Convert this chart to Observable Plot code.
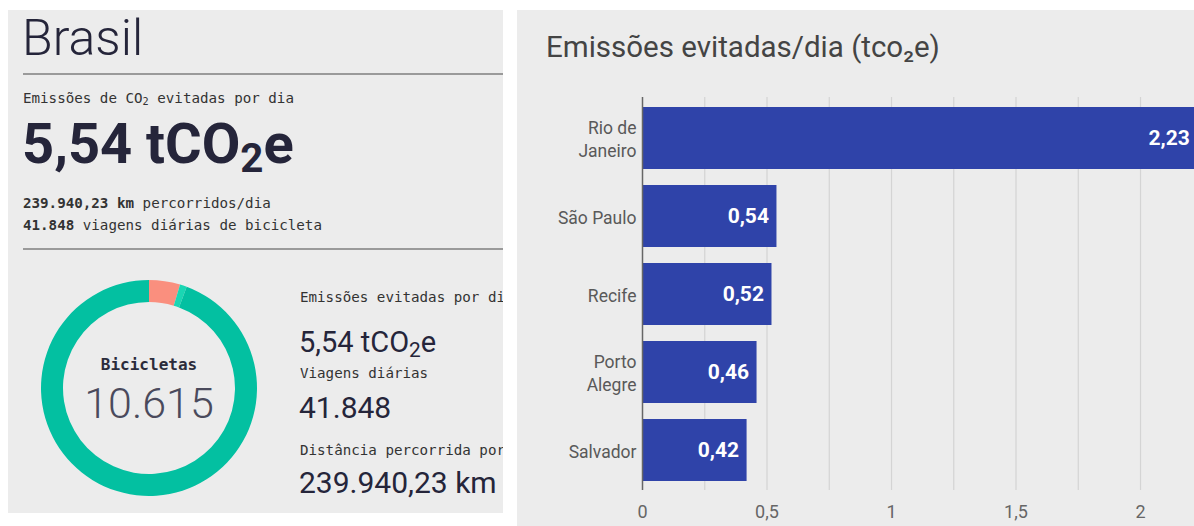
<!DOCTYPE html>
<html><head><meta charset="utf-8">
<script src="https://cdn.jsdelivr.net/npm/d3@7"></script>
<script src="https://cdn.jsdelivr.net/npm/@observablehq/plot@0.6"></script>
<style>
html,body{margin:0;padding:0;background:#fff;width:1194px;height:526px;overflow:hidden;}
svg{max-width:none !important;}
.panel{position:absolute;background:#ececec;overflow:hidden;}
#left{left:8px;top:10px;width:495px;height:503px;}
#right{left:517px;top:10px;width:677px;height:516px;}
.t{position:absolute;white-space:nowrap;line-height:1;color:#25253a;}
.sans{font-family:Roboto,"Noto Sans",sans-serif;}
.mono{font-family:"DejaVu Sans Mono","Liberation Mono",monospace;font-size:14.2px;color:#333;}
.hr{position:absolute;left:15px;right:0;height:1.5px;background:#9a9a9a;}
sub{font-size:0.72em;vertical-align:-0.22em;line-height:0;}
</style>
</head><body>
<div id="left" class="panel"></div>
<div id="right" class="panel"></div>
<script>
// ---- data ----
const country = "Brasil";
const emissionsTotal = "5,54";
const kmPerDay = "239.940,23";
const tripsPerDay = "41.848";
const bikes = "10.615";
const donutParts = ["Parte A", "Parte B", "Parte C"];
const donutValues = [493, 109, 10013];
const donutColors = ["#fa8f7e", "#1ad6b3", "#03c0a1"];
const cities = ["Rio de Janeiro", "São Paulo", "Recife", "Porto Alegre", "Salvador"];
const cityLabels = ["Rio de\nJaneiro", "São Paulo", "Recife", "Porto\nAlegre", "Salvador"];
const emissions = [2.23, 0.54, 0.52, 0.46, 0.42];
const xTicks = [0, 0.5, 1, 1.5, 2];
const xTickLabels = ["0", "0,5", "1", "1,5", "2"];
const gridTicks = [0.25, 0.5, 0.75, 1, 1.25, 1.5, 1.75, 2];
const chartTitle = "Emissões evitadas/dia (tco₂e)";

// ---- left panel ----
const left = document.getElementById("left");
left.innerHTML = `
<div class="t sans" style="left:14px;top:3px;font-size:50px;font-weight:300;">${country}</div>
<div class="hr" style="top:63px;"></div>
<div class="t mono" style="left:15px;top:81px;">Emissões de CO<sub>2</sub> evitadas por dia</div>
<div class="t sans" style="left:14px;top:106px;font-size:56px;font-weight:700;">${emissionsTotal} tCO<sub>2</sub>e</div>
<div class="t mono" style="left:15px;top:186px;"><b>${kmPerDay} km</b> percorridos/dia</div>
<div class="t mono" style="left:15px;top:208px;"><b>${tripsPerDay}</b> viagens diárias de bicicleta</div>
<div class="hr" style="top:238px;"></div>
<div id="donut" style="position:absolute;left:31px;top:268px;width:220px;height:220px;"></div>
<div class="t mono" style="left:41px;width:200px;text-align:center;top:347px;font-size:16px;font-weight:bold;color:#2b2b3b;">Bicicletas</div>
<div class="t sans" style="left:41px;width:200px;text-align:center;top:372px;font-size:43px;font-weight:300;color:#4a4a5c;">${bikes}</div>
<div class="t mono" style="left:292px;top:280px;">Emissões evitadas por dia</div>
<div class="t sans" style="left:291px;top:318px;font-size:29px;">${emissionsTotal} tCO<sub>2</sub>e</div>
<div class="t mono" style="left:292px;top:356px;">Viagens diárias</div>
<div class="t sans" style="left:291px;top:383px;font-size:30px;">${tripsPerDay}</div>
<div class="t mono" style="left:292px;top:433px;">Distância percorrida por dia</div>
<div class="t sans" style="left:291px;top:458px;font-size:30px;">${kmPerDay} km</div>
`;

const donut = Plot.plot({
  width: 220, height: 220, margin: 0,
  style: {background: "transparent", overflow: "visible"},
  marks: [
    (index, scales, values, dimensions) => {
      const g = d3.create("svg:g")
        .attr("transform", `translate(${dimensions.width / 2},${dimensions.height / 2})`);
      const arcs = d3.pie().sort(null)(donutValues);
      const arc = d3.arc().innerRadius(86).outerRadius(108);
      g.selectAll("path").data(arcs).join("path")
        .attr("d", arc)
        .attr("fill", (d, i) => donutColors[i])
        .append("title").text((d, i) => donutParts[i]);
      return g.node();
    }
  ]
});
document.getElementById("donut").appendChild(donut);

// ---- right panel ----
const right = document.getElementById("right");
right.innerHTML = `<div class="t sans" style="left:29px;top:23px;font-size:29.5px;color:#444;">${chartTitle}</div>`;

const rows = cities.map((c, i) => ({city: c, value: emissions[i]}));
const labelOf = new Map(cities.map((c, i) => [c, cityLabels[i]]));
const fmt = v => v.toFixed(2).replace(".", ",");

const bar = Plot.plot({
  width: 686, height: 516,
  marginLeft: 125, marginRight: 0.75, marginTop: 81.4, marginBottom: 29,
  style: {background: "transparent", fontFamily: "Roboto, sans-serif", fontSize: "18px", color: "#555", overflow: "visible"},
  x: {domain: [0, 2.25]},
  y: {domain: cities, padding: 0.2},
  marks: [
    Plot.ruleX(gridTicks, {stroke: "#d4d4d4", strokeWidth: 1.2, insetTop: 5.6, insetBottom: 7}),
    Plot.barX(rows, {x: "value", y: "city", fill: "#2f43a9"}),
    Plot.ruleX([0], {stroke: "#666", strokeWidth: 1.5, insetTop: 5.6, insetBottom: 7}),
    Plot.text(rows, {x: "value", y: "city", text: d => fmt(d.value), textAnchor: "end", dx: -8, fill: "white", fontWeight: "bold", fontSize: 21}),
    Plot.axisY({tickSize: 0, tickPadding: 6, tickFormat: c => labelOf.get(c), lineHeight: 1.3, fill: "#595959", fontSize: 17.5, label: null}),
    Plot.axisX({ticks: xTicks, tickSize: 0, tickPadding: 8, tickFormat: d => xTickLabels[xTicks.indexOf(d)], fill: "#666", fontSize: 18, label: null})
  ]
});
bar.style.position = "absolute";
bar.style.left = "0px";
bar.style.top = "0px";
right.appendChild(bar);
</script>
</body></html>
